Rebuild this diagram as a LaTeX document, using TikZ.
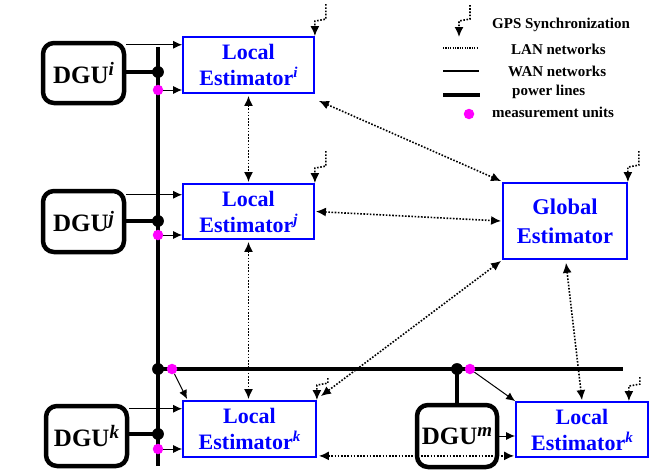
\documentclass[tikz,border=0pt]{standalone}
\usepackage{fontspec}
\setmainfont{Liberation Serif}
\usetikzlibrary{arrows.meta,calc}
\definecolor{eblue}{RGB}{0,0,255}
\definecolor{mag}{RGB}{255,0,255}
\newcommand\supE[1]{\raisebox{0.36em}{\fontsize{15}{15}\selectfont\itshape #1}}
\newcommand\supD[1]{\raisebox{0.3em}{\fontsize{19}{19}\selectfont\itshape #1}}
\newcommand\gpshook[2]{\draw[lanone] ($(#1)+(11,-#2)$) -- ++(0,#2-17) -- ++(-11,2) -- (#1);}
\begin{document}
\begin{tikzpicture}[x=1pt,y=-1pt,
  est/.style={draw=eblue, line width=1.8pt, text=eblue, font=\fontsize{22}{26}\selectfont\bfseries, align=center, inner sep=0pt},
  dgu/.style={draw, line width=4.5pt, rounded corners=11pt, inner sep=0pt, minimum width=81pt, minimum height=61pt, font=\fontsize{25}{25}\selectfont\bfseries},
  wanarrow/.style={line width=1pt, -{Latex[length=9pt,width=8pt]}},
  lantwo/.style={line width=1.6pt, dash pattern=on 1.6pt off 1.6pt, {Latex[length=10pt,width=9pt]}-{Latex[length=10pt,width=9pt]}},
  lanone/.style={line width=1.6pt, dash pattern=on 1.6pt off 1.6pt, -{Latex[length=10pt,width=9pt]}},
  powerline/.style={line width=4.2pt},
  jdot/.style={circle, fill=black, inner sep=0pt, minimum size=11.5pt},
  mdot/.style={circle, fill=mag, inner sep=0pt, minimum size=10.5pt},
  legtext/.style={anchor=base west, inner sep=0pt, font=\fontsize{15}{15}\selectfont\bfseries}
]
\useasboundingbox (0,0) rectangle (657,471);

% estimators
\node[est, minimum width=131pt, minimum height=56pt] (LEi) at (248.5,65) {Local\\Estimator\supE{i}};
\node[est, minimum width=131pt, minimum height=55pt] (LEj) at (248.5,211.5) {Local\\Estimator\supE{j}};
\node[est, minimum width=133pt, minimum height=56pt] (LEk) at (249.5,429) {Local\\Estimator\supE{k}};
\node[est, minimum width=132pt, minimum height=55pt] (LEk2) at (582,429.5) {Local\\Estimator\supE{k}};
\node[est, minimum width=124pt, minimum height=76pt, font=\fontsize{22.5}{29}\selectfont\bfseries] (GE) at (565,221) {Global\\Estimator};

% DGUs
\node[dgu, minimum height=60pt] (DGUi) at (83.5,73) {DGU\supD{i}};
\node[dgu] (DGUj) at (83.5,221.5) {DGU\supD{j}};
\node[dgu, minimum height=60pt] (DGUk) at (86.5,436) {DGU\supD{k}};
\node[dgu, minimum width=80pt, minimum height=62pt] (DGUm) at (457,436) {DGU\supD{m}};

% power line coordinates and dots
\coordinate (pvtop) at (158,47);
\coordinate (pvbot) at (158,466);
\coordinate (phr) at (623,369);
\node[jdot] (ji) at (158,72) {};
\node[jdot] (jj) at (158,221) {};
\node[jdot] (jk) at (158,434) {};
\node[jdot] (jh) at (158,369) {};
\node[jdot] (jm) at (457,369) {};

\draw[powerline] (pvtop) -- (pvbot);
\draw[powerline] (jh.center) -- (phr);
\draw[powerline] (DGUi.east |- ji) -- (ji.center);
\draw[powerline] (DGUj.east |- jj) -- (jj.center);
\draw[powerline] (DGUk.east |- jk) -- (jk.center);
\draw[powerline] (jm.center) -- (DGUm.north);

\node[jdot] at (ji) {};
\node[jdot] at (jj) {};
\node[jdot] at (jk) {};
\node[jdot] at (jh) {};
\node[jdot] at (jm) {};

% measurement units
\node[mdot] (mi) at (158,90) {};
\node[mdot] (mj) at (158,235) {};
\node[mdot] (mk) at (158,449) {};
\node[mdot] (mh) at (172,369) {};
\node[mdot] (mm) at (470,369) {};

% WAN arrows
\coordinate (ai) at ($(DGUi.north east)+(0,4)$);
\coordinate (aj) at ($(DGUj.north east)+(0,6)$);
\coordinate (ak) at ($(DGUk.north east)+(0,5)$);
\draw[wanarrow] (ai) -- (ai -| LEi.west);
\draw[wanarrow] (aj) -- (aj -| LEj.west);
\draw[wanarrow] (ak) -- (ak -| LEk.west);
\draw[wanarrow] (mi) -- (mi -| LEi.west);
\draw[wanarrow] (mj) -- (mj -| LEj.west);
\draw[wanarrow] (mk) -- (mk -| LEk.west);
\draw[wanarrow] (mh) -- ($(LEk.north west)+(5,-1)$);
\draw[wanarrow] (mm) -- (LEk2.north west);
\draw[wanarrow] (DGUm.east) -- (DGUm.east -| LEk2.west);

% LAN arrows
\draw[lantwo] ($(LEi.south)+(0,2)$) -- ($(LEj.north)+(0,-1)$);
\draw[lantwo] ($(LEj.south)+(0,2)$) -- ($(LEj.south |- LEk.north)+(0,-1)$);
\draw[lantwo] ($(LEi.south east)+(4,7)$) -- ($(GE.north west)+(-1,-1)$);
\draw[lantwo] ($(LEj.east)+(1,0)$) -- ($(GE.west)+(-1,0)$);
\draw[lantwo] ($(GE.south west)+(-1,1)$) -- ($(LEk.north east)+(4,-4)$);
\draw[lantwo] ($(GE.south)+(1,3)$) -- ($(LEk2.north)+(0,-1)$);
\draw[lantwo] ($(LEk.south east)+(2,-2)$) -- ($(LEk2.south west)+(-1,-2)$);

% GPS hooks
\coordinate (hk2) at ($(LEk2.north east)+(-20,0)$);
\gpshook{LEi.north east}{32}
\gpshook{LEj.north east}{32}
\gpshook{GE.north east}{31}
\gpshook{LEk.north east}{22}
\gpshook{hk2}{24}

% legend
\coordinate (lg1) at (470,5);
\coordinate (lg2) at (459,37);
\draw[lanone] (lg1) -- (470,19) -- (459,21) -- (lg2);
\node[legtext] (t1) at (492,28) {GPS Synchronization};
\coordinate (la1) at (443,48);
\coordinate (la2) at (477,48);
\draw[line width=1.2pt, dash pattern=on 1.2pt off 1.2pt] (la1) -- (la2);
\node[legtext] (t2) at (511,54) {LAN networks};
\coordinate (wa1) at (443,71);
\coordinate (wa2) at (479,71);
\draw[line width=1.2pt] (wa1) -- (wa2);
\node[legtext] (t3) at (508,76) {WAN networks};
\coordinate (po1) at (443,95);
\coordinate (po2) at (480,95);
\draw[line width=4.5pt] (po1) -- (po2);
\node[legtext] (t4) at (512,95) {power lines};
\node[mdot] (lm) at (469,114) {};
\node[legtext] (t5) at (492,117) {measurement units};
\end{tikzpicture}
\end{document}
